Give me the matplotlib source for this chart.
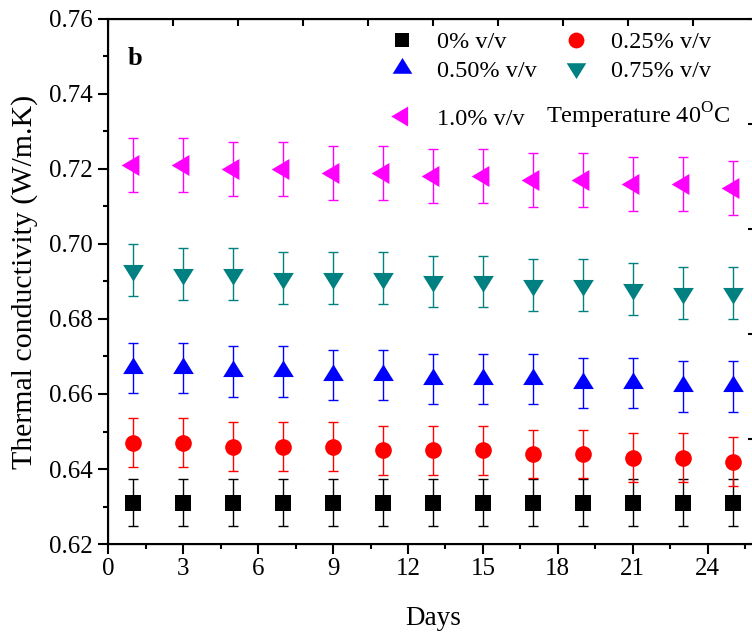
import matplotlib
matplotlib.use("Agg")
import matplotlib.pyplot as plt
from matplotlib.lines import Line2D

plt.rcParams['font.family'] = ['Liberation Serif', 'DejaVu Serif']
plt.rcParams['mathtext.fontset'] = 'custom'
plt.rcParams['mathtext.rm'] = 'Liberation Serif'

days = [1, 3, 5, 7, 9, 11, 13, 15, 17, 19, 21, 23, 25]
k_0 = [0.631] * 13
k_025 = [0.647, 0.647, 0.646, 0.646, 0.646, 0.645, 0.645, 0.645, 0.644, 0.644, 0.643, 0.643, 0.642]
k_050 = [0.667, 0.667, 0.666, 0.666, 0.665, 0.665, 0.664, 0.664, 0.664, 0.663, 0.663, 0.662, 0.662]
k_075 = [0.693, 0.692, 0.692, 0.691, 0.691, 0.691, 0.690, 0.690, 0.689, 0.689, 0.688, 0.687, 0.687]
k_100 = [0.721, 0.721, 0.720, 0.720, 0.719, 0.719, 0.718, 0.718, 0.717, 0.717, 0.716, 0.716, 0.715]
err_0, err_025, err_050, err_075, err_100 = 0.0063, 0.0065, 0.0067, 0.0069, 0.0072
labels = ['0% v/v', '0.25% v/v', '0.50% v/v', '0.75% v/v', '1.0% v/v']
xticks = [0, 3, 6, 9, 12, 15, 18, 21, 24]
yticks = [0.62, 0.64, 0.66, 0.68, 0.70, 0.72, 0.74, 0.76]

tri_up = [(-0.62, -1/3), (0.62, -1/3), (0, 2/3)]
tri_dn = [(-0.62, 1/3), (0.62, 1/3), (0, -2/3)]
tri_lt = [(-11.8, 0), (5.9, 10.5), (5.9, -10.5)]

fig = plt.figure(figsize=(7.52, 6.35), dpi=100)
ax = fig.add_axes([0.144, 0.1433, 0.8635, 0.8268])

series = [
    (k_0, err_0, 's', 11, 'black'),
    (k_025, err_025, 'o', 12, 'red'),
    (k_050, err_050, tri_up, 16, 'blue'),
    (k_075, err_075, tri_dn, 16, '#008080'),
    (k_100, err_100, tri_lt, 17, 'magenta'),
]
handles = []
for (vals, err, mk, ms, col), lab in zip(series, labels):
    ax.errorbar(days, vals, yerr=err, fmt='none', ecolor=col, elinewidth=1.0,
                capsize=3.8, capthick=1.0, zorder=2)
    ax.plot(days, vals, linestyle='none', marker=mk, markersize=ms,
            color=col, markeredgewidth=0, zorder=3)
    handles.append(Line2D([], [], linestyle='none', marker=mk, markersize=ms * 0.95,
                          color=col, markeredgewidth=0, label=lab))

ax.set_xlim(0, 26)
ax.set_ylim(0.62, 0.76)
ax.set_xticks(xticks)
ax.set_xticks([x + 1.5 for x in xticks], minor=True)
ax.set_yticks(yticks)
ax.set_yticks([y + 0.01 for y in yticks[:-1]], minor=True)
ax.set_yticklabels([f'{y:.2f}' for y in yticks])
ax.tick_params(axis='both', which='major', direction='out', length=7, width=1.5,
               labelsize=18, pad=3)
ax.tick_params(axis='both', which='minor', direction='out', length=3.5, width=1.5)
ax.tick_params(axis='y', which='major', pad=4.3)
for s in ax.spines.values():
    s.set_linewidth(1.5)

# secondary scales (inward ticks on top and right)
axt = ax.twiny()
axt.set_xlim(0, 26)
axt.set_xticks([i * 2.6 for i in range(11)])
axt.tick_params(axis='x', direction='in', length=5, width=1.5, labeltop=False)
axr = ax.twinx()
axr.set_ylim(0.62, 0.76)
axr.set_yticks([0.62 + i * 0.028 for i in range(6)])
axr.tick_params(axis='y', direction='in', length=7, width=1.5, labelright=False)

ax.set_xlabel('Days', fontsize=19.5, labelpad=19)
ax.set_ylabel('Thermal conductivity (W/m.K)', fontsize=21.5, labelpad=8)

ax.text(0.03, 0.925, 'b', transform=ax.transAxes, fontsize=19, fontweight='bold',
        ha='left', va='center')

order = [0, 2, 1, 3]
leg1 = ax.legend(handles=[handles[i] for i in order], ncol=2, loc='upper left',
                 bbox_to_anchor=(0.43, 0.977), frameon=False, fontsize=17.5,
                 handlelength=1.2, handletextpad=0.85, columnspacing=1.0,
                 labelspacing=0.28, borderaxespad=0, borderpad=0)
ax.add_artist(leg1)
leg2 = ax.legend(handles=handles[4:], loc='upper left',
                 bbox_to_anchor=(0.43, 0.831), frameon=False, fontsize=17.5,
                 handlelength=1.2, handletextpad=0.85, borderaxespad=0, borderpad=0)
ax.text(0.6735, 0.8, 'Temperature 40$^{\\mathrm{O}}$C', transform=ax.transAxes,
        fontsize=17.5, ha='left', va='baseline')

fig.savefig('out.png', dpi=100)
